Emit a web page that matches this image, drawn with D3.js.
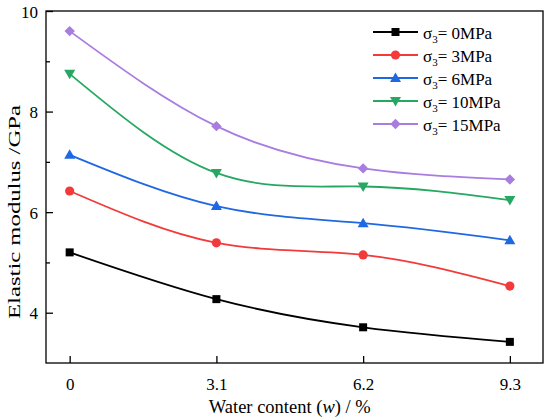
<!DOCTYPE html>
<html>
<head>
<meta charset="utf-8">
<script src="https://cdn.jsdelivr.net/npm/d3@7"></script>
<style>
  body { margin: 0; background: #fff; }
  svg { display: block; font-family: "Liberation Serif", "Times New Roman", serif; }
  .frame { fill: none; stroke: #000; stroke-width: 1.3; }
  .axis path { display: none; }
  .axis line { stroke: #000; stroke-width: 1.3; }
  .line { fill: none; stroke-width: 1.8; }
</style>
</head>
<body>
<div id="chart"></div>
<script>
// Data
var waterContent = [0, 3.1, 6.2, 9.3];
var confining = ["0", "3", "6", "10", "15"];
var modulus0 = [5.20, 4.27, 3.71, 3.42];
var modulus3 = [6.42, 5.39, 5.15, 4.53];
var modulus6 = [7.14, 6.12, 5.78, 5.44];
var modulus10 = [8.75, 6.78, 6.51, 6.24];
var modulus15 = [9.60, 7.71, 6.87, 6.65];
var yTickLabels = [4, 6, 8, 10];
var yMinorTicks = [5, 7, 9];

var allSeries = [modulus0, modulus3, modulus6, modulus10, modulus15];
var colors = ["#000000", "#f23a3a", "#1f68e3", "#26a862", "#a97ce0"];
var shapes = ["square", "circle", "triangle", "triangleDown", "diamond"];

var width = 550, height = 420;
var margins = { top: 11, right: 7, bottom: 57, left: 46 };
var chartWidth = width - margins.left - margins.right;
var chartHeight = height - margins.top - margins.bottom;

var svg = d3.select("#chart").append("svg")
  .attr("width", width)
  .attr("height", height);

var chart = svg.append("g")
  .attr("transform", `translate(${margins.left},${margins.top})`);

var xScale = d3.scaleLinear().domain([-0.5, 10]).range([0, chartWidth]);
var yScale = d3.scaleLinear().domain([3, 10]).range([chartHeight, 0]);

// axes (ticks point inward)
var xAxis = d3.axisBottom(xScale)
  .tickValues(waterContent)
  .tickSize(-7)
  .tickPadding(15)
  .tickFormat(d => d === 0 ? "0" : d.toFixed(1));

chart.append("g")
  .attr("class", "x axis")
  .attr("transform", `translate(0,${chartHeight})`)
  .call(xAxis)
  .attr("font-family", "Liberation Serif, serif")
  .attr("font-size", 17);

var yAxis = d3.axisLeft(yScale)
  .tickValues(yTickLabels)
  .tickSize(-7)
  .tickPadding(8)
  .tickFormat(d => d);

chart.append("g")
  .attr("class", "y axis")
  .call(yAxis)
  .attr("font-family", "Liberation Serif, serif")
  .attr("font-size", 17)
  .selectAll("text").attr("dy", "0.36em");

chart.append("g")
  .attr("class", "y axis minor")
  .call(d3.axisLeft(yScale).tickValues(yMinorTicks).tickSize(-4).tickFormat(""));

chart.append("rect")
  .attr("class", "frame")
  .attr("x", 0).attr("y", 0)
  .attr("width", chartWidth).attr("height", chartHeight);

// symbols
var drawMarker = function(g, shape, color, x, y) {
  if (shape === "square") {
    g.append("rect").attr("x", x - 4).attr("y", y - 4).attr("width", 8).attr("height", 8).attr("fill", color);
  } else if (shape === "circle") {
    g.append("circle").attr("cx", x).attr("cy", y).attr("r", 4.6).attr("fill", color);
  } else if (shape === "triangle") {
    g.append("path").attr("d", `M${x},${y - 5.5}L${x + 5.5},${y + 4}L${x - 5.5},${y + 4}Z`).attr("fill", color);
  } else if (shape === "triangleDown") {
    g.append("path").attr("d", `M${x},${y + 5.5}L${x + 5.5},${y - 4}L${x - 5.5},${y - 4}Z`).attr("fill", color);
  } else {
    g.append("path").attr("d", `M${x},${y - 5.2}L${x + 5.2},${y}L${x},${y + 5.2}L${x - 5.2},${y}Z`).attr("fill", color);
  }
};

var line = d3.line()
  .x((d, i) => xScale(waterContent[i]))
  .y(d => yScale(d))
  .curve(d3.curveNatural);

allSeries.forEach(function(values, s) {
  chart.append("path")
    .attr("class", "line")
    .attr("stroke", colors[s])
    .attr("d", line(values));
  var g = chart.append("g").attr("class", "markers");
  values.forEach(function(v, i) {
    drawMarker(g, shapes[s], colors[s], xScale(waterContent[i]), yScale(v));
  });
});

// axis titles
var xTitle = svg.append("text")
  .attr("x", margins.left + xScale(4.65))
  .attr("y", 413)
  .attr("text-anchor", "middle")
  .attr("font-size", 18.5);
xTitle.append("tspan").text("Water content (");
xTitle.append("tspan").attr("font-style", "italic").text("w");
xTitle.append("tspan").text(") / %");

svg.append("text")
  .attr("transform", "translate(20,212) rotate(-90)")
  .attr("text-anchor", "middle")
  .attr("font-size", 17.5)
  .attr("textLength", 214)
  .attr("lengthAdjust", "spacingAndGlyphs")
  .text("Elastic modulus /GPa");

// legend
var legend = svg.append("g").attr("transform", "translate(373,32)");
confining.forEach(function(name, s) {
  var row = legend.append("g").attr("transform", `translate(0,${s * 23})`);
  row.append("line")
    .attr("x1", 0).attr("x2", 45)
    .attr("y1", 0).attr("y2", 0)
    .attr("stroke", colors[s]).attr("stroke-width", 1.8);
  drawMarker(row, shapes[s], colors[s], 22.5, 0);
  var t = row.append("text")
    .attr("x", 50).attr("y", 6.5)
    .attr("font-size", 17);
  t.append("tspan").text("\u03c3");
  t.append("tspan").attr("font-size", 11).attr("dy", 4).text("3");
  t.append("tspan").attr("dy", -4).text("= " + name + "MPa");
});
</script>
</body>
</html>
